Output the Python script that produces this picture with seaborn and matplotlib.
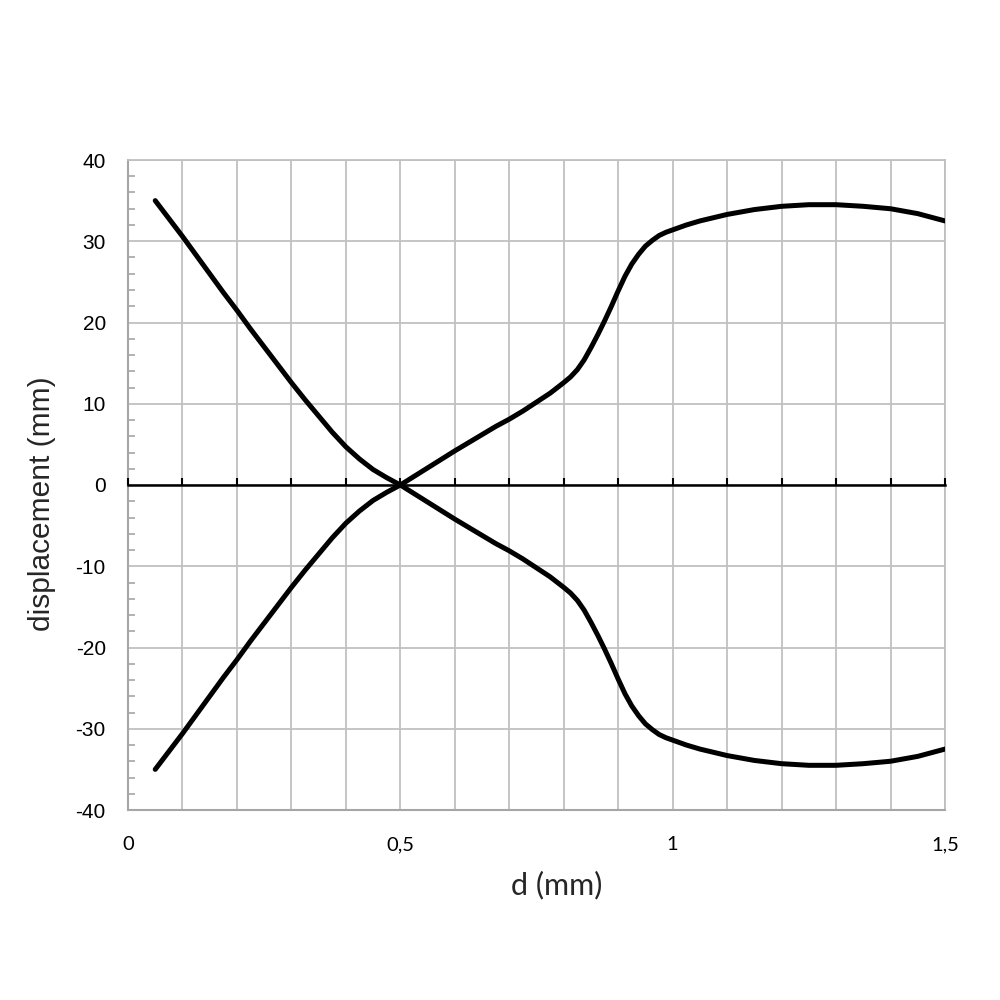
import numpy as np
import pandas as pd
import matplotlib
matplotlib.use("Agg")
import matplotlib.pyplot as plt
import matplotlib.ticker as mticker
import seaborn as sns

# ---- data ----
d_mm = [0.05, 0.075, 0.1, 0.125, 0.15, 0.175, 0.2, 0.225, 0.25, 0.275, 0.3,
        0.325, 0.35, 0.375, 0.4, 0.425, 0.45, 0.475, 0.5, 0.525, 0.55, 0.575,
        0.6, 0.625, 0.65, 0.675, 0.7, 0.725, 0.75, 0.775, 0.8, 0.8125, 0.825,
        0.8375, 0.85, 0.8625, 0.875, 0.8875, 0.9, 0.9125, 0.925, 0.9375, 0.95,
        0.9625, 0.975, 0.9875, 1.0, 1.025, 1.05, 1.1, 1.15, 1.2, 1.25,
        1.3, 1.35, 1.4, 1.45, 1.5]
disp_rising = [-35.0, -32.8, -30.6, -28.3, -26.0, -23.7, -21.5, -19.2, -17.0,
               -14.8, -12.6, -10.5, -8.5, -6.5, -4.7, -3.2, -1.9, -0.9, 0.0,
               1.05, 2.1, 3.15, 4.2, 5.2, 6.2, 7.2, 8.1, 9.1, 10.2, 11.3, 12.6,
               13.3, 14.2, 15.4, 16.9, 18.5, 20.2, 22.0, 23.9, 25.7, 27.2, 28.4,
               29.4, 30.1, 30.7, 31.1, 31.4, 32.0, 32.5, 33.3,
               33.9, 34.3, 34.5, 34.5, 34.3, 34.0, 33.4, 32.5]
disp_falling = [35.0, 32.8, 30.6, 28.3, 26.0, 23.7, 21.5, 19.2, 17.0,
                14.8, 12.6, 10.5, 8.5, 6.5, 4.7, 3.2, 1.9, 0.9, 0.0,
                -1.05, -2.1, -3.15, -4.2, -5.2, -6.2, -7.2, -8.1, -9.1, -10.2, -11.3, -12.6,
                -13.3, -14.2, -15.4, -16.9, -18.5, -20.2, -22.0, -23.9, -25.7, -27.2, -28.4,
                -29.4, -30.1, -30.7, -31.1, -31.4, -32.0, -32.5, -33.3,
                -33.9, -34.3, -34.5, -34.5, -34.3, -34.0, -33.4, -32.5]
x_tick_values = [0, 0.5, 1, 1.5]
x_tick_labels = ["0", "0,5", "1", "1,5"]
y_tick_values = [-40, -30, -20, -10, 0, 10, 20, 30, 40]
y_tick_labels = ["-40", "-30", "-20", "-10", "0", "10", "20", "30", "40"]

df = pd.DataFrame({
    "d": d_mm + d_mm,
    "disp": disp_rising + disp_falling,
    "curve": ["rising"] * len(d_mm) + ["falling"] * len(d_mm),
})

sns.set_theme(style="white")
plt.rcParams["font.family"] = ["Liberation Sans", "DejaVu Sans"]

GRID = "#c0c0c0"
SPINE = "#a6a6a6"

fig = plt.figure(figsize=(10, 10), dpi=100)
ax = fig.add_axes([0.128, 0.19, 0.817, 0.65])

for name in ["rising", "falling"]:
    sub = df[df["curve"] == name]
    sns.lineplot(data=sub, x="d", y="disp", ax=ax, color="black", linewidth=3.6,
                 estimator=None, sort=False, legend=False,
                 solid_capstyle="round", solid_joinstyle="round", zorder=5)

ax.set_xlim(0, 1.5)
ax.set_ylim(-40, 40)

ax.xaxis.set_major_locator(mticker.FixedLocator(x_tick_values))
ax.xaxis.set_minor_locator(mticker.MultipleLocator(0.1))
ax.set_xticklabels(x_tick_labels, family=["Lato", "DejaVu Sans"], fontsize=14.5)
ax.yaxis.set_major_locator(mticker.FixedLocator(y_tick_values))
ax.yaxis.set_minor_locator(mticker.MultipleLocator(2))
ax.set_yticklabels(y_tick_labels, fontsize=15)

ax.grid(True, which="major", axis="both", color=GRID, linewidth=1.3)
ax.grid(True, which="minor", axis="x", color=GRID, linewidth=1.3)
ax.set_axisbelow(True)

ax.tick_params(axis="x", which="both", length=0, pad=19, colors="black")
ax.tick_params(axis="y", which="major", length=0, pad=16, colors="black")
ax.tick_params(axis="y", which="minor", direction="in", length=5, width=1.2,
               color=SPINE, left=True)

for side in ["top", "right"]:
    ax.spines[side].set_color(GRID)
    ax.spines[side].set_linewidth(1.3)
for side in ["left", "bottom"]:
    ax.spines[side].set_color(SPINE)
    ax.spines[side].set_linewidth(1.5)

# zero line with upward ticks (overlay axes sharing the y scale)
ax0 = ax.twiny()
ax0.set_xlim(0, 1.5)
ax0.patch.set_visible(False)
ax0.grid(False)
for side in ["top", "left", "right"]:
    ax0.spines[side].set_visible(False)
ax0.spines["bottom"].set_visible(True)
ax0.spines["bottom"].set_position(("data", 0))
ax0.spines["bottom"].set_color("black")
ax0.spines["bottom"].set_linewidth(1.8)
ax0.xaxis.set_ticks_position("bottom")
ax0.xaxis.set_major_locator(mticker.MultipleLocator(0.1))
ax0.xaxis.set_major_formatter(mticker.NullFormatter())
ax0.tick_params(axis="x", which="major", direction="in", length=5, width=1.5,
                color="black", bottom=True, top=False)
ax0.set_zorder(ax.get_zorder() + 1)

ax.set_xlabel("d (mm)", family=["Lato", "DejaVu Sans"], fontsize=22)
ax.xaxis.set_label_coords(0.525, -0.093)
ax.set_ylabel("displacement (mm)", fontsize=21.5)
ax.yaxis.set_label_coords(-0.088, 0.471)

fig.savefig("out.png", dpi=100)
